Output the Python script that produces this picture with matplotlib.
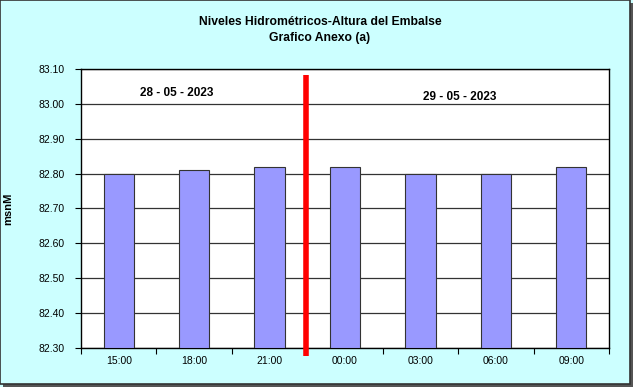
import matplotlib
matplotlib.use("Agg")
import matplotlib.pyplot as plt
from matplotlib.patches import Rectangle
import numpy as np

categories = ["15:00", "18:00", "21:00", "00:00", "03:00", "06:00", "09:00"]
values = [82.80, 82.81, 82.82, 82.82, 82.80, 82.80, 82.82]
yticks = [82.30, 82.40, 82.50, 82.60, 82.70, 82.80, 82.90, 83.00, 83.10]
date_labels = ["28 - 05 - 2023", "29 - 05 - 2023"]

plt.rcParams['font.family'] = ['Liberation Sans', 'DejaVu Sans']

fig = plt.figure(figsize=(6.33, 3.87), dpi=100)
fig.patch.set_facecolor("#CCFFFF")
# figure border with shadow
fig.patches.append(Rectangle((3/633, 0), 630/633, 384/387, transform=fig.transFigure,
                             facecolor="#555555", edgecolor="none", zorder=-2))
fig.patches.append(Rectangle((0, 3/387), 630/633, 384/387, transform=fig.transFigure,
                             facecolor="#CCFFFF", edgecolor="#333333", linewidth=1.2, zorder=-1))

ax = fig.add_axes([81/633, 1-348/387, 528/633, 279/387])
ax.set_facecolor("white")
x = np.arange(len(categories))
base = yticks[0]
ax.bar(x, np.array(values) - base, bottom=base, width=0.4, color="#9999FF",
       edgecolor="#333333", linewidth=0.8, zorder=3)
ax.set_xlim(-0.5, len(categories) - 0.5)
ax.set_ylim(yticks[0], yticks[-1])
ax.set_yticks(yticks)
ax.set_yticklabels([f"{v:.2f}" for v in yticks], fontsize=7.5)
ax.set_xticks(x)
ax.set_xticklabels(categories, fontsize=7.5)
ax.set_xticks(np.arange(-0.5, len(categories)), minor=True)
ax.tick_params(axis='x', which='major', length=0, pad=6)
ax.tick_params(axis='x', which='minor', length=4, direction='out', width=0.8)
ax.tick_params(axis='y', length=4, direction='out', width=0.8, pad=8)
ax.grid(axis='y', color="#333333", linewidth=0.9, zorder=1)
for s in ax.spines.values():
    s.set_color("black")
    s.set_linewidth(1.0)

# red separator line
ax.plot([2.48, 2.48], [83.083, 82.278], color="red", linewidth=4, clip_on=False, zorder=5,
        solid_capstyle='butt')

ax.text(0.77, 83.03, date_labels[0], ha='center', va='center', fontsize=8.5, fontweight='bold')
ax.text(4.52, 83.02, date_labels[1], ha='center', va='center', fontsize=8.5, fontweight='bold')

ax.set_ylabel("msnM", fontsize=8, fontweight='bold', labelpad=18)
fig.text(320/633, 1-22/387, "Niveles Hidrométricos-Altura del Embalse", ha='center', va='center',
         fontsize=8.7, fontweight='bold')
fig.text(320/633, 1-38/387, "Grafico Anexo (a)", ha='center', va='center',
         fontsize=8.7, fontweight='bold')

fig.savefig("out.png", dpi=100, facecolor=fig.get_facecolor())
